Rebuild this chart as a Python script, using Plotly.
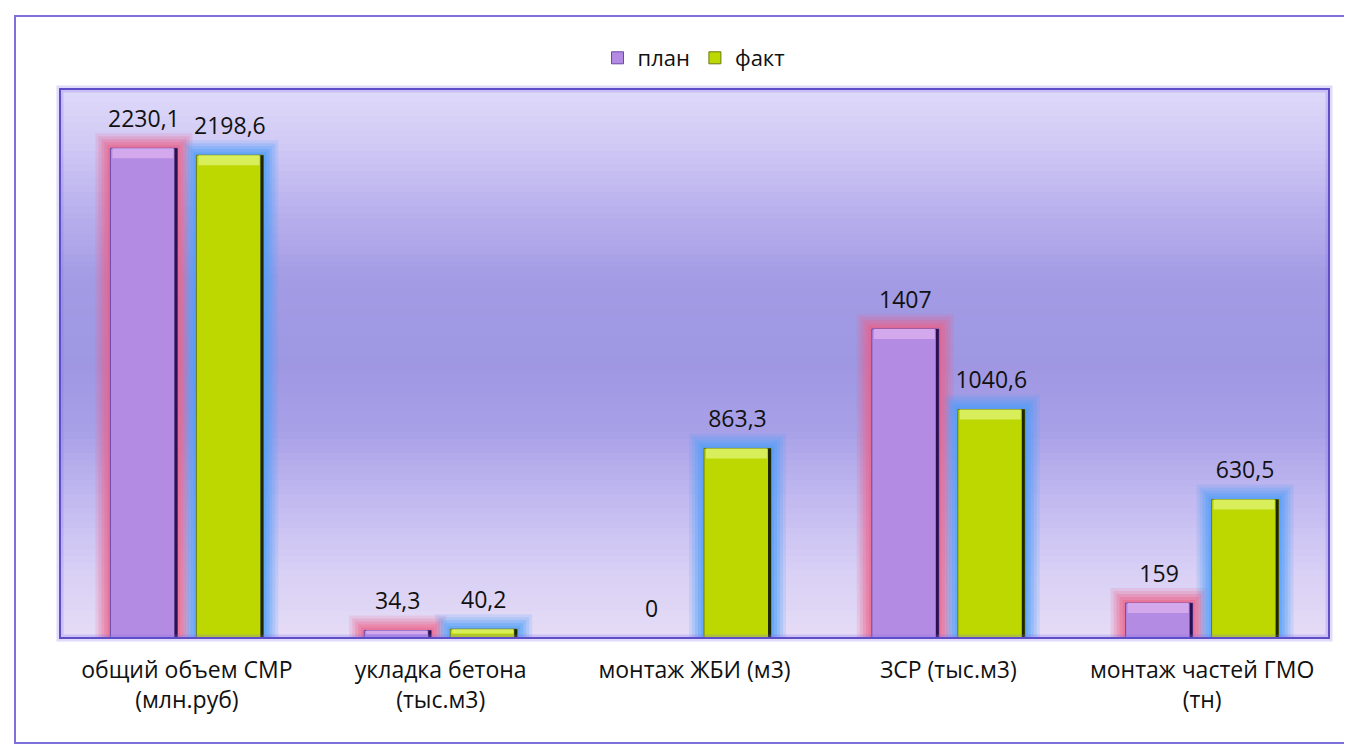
import plotly.graph_objects as go

# ---- data ----
categories = [
    "общий объем СМР<br>(млн.руб)",
    "укладка бетона<br>(тыс.м3)",
    "монтаж ЖБИ (м3)",
    "ЗСР (тыс.м3)",
    "монтаж частей ГМО<br>(тн)",
]
plan = [2230.1, 34.3, 0, 1407, 159]
fact = [2198.6, 40.2, 863.3, 1040.6, 630.5]
series_names = ["план", "факт"]

# ---- layout constants (page pixels; the page body has an 8px margin) ----
OFF = 8
W, H = 1352 - OFF, 747 - OFF
PX_L, PX_R, PX_T, PX_B = 60 - OFF, 1329 - OFF, 89 - OFF, 638 - OFF
Y_MAX = 2500
cat_px = (PX_R - PX_L) / len(categories)
unit_px = (PX_B - PX_T) / Y_MAX

bar_w = 67 / cat_px
plan_off = -76.5 / cat_px
fact_off = 9.5 / cat_px
lab_pad = 27 / unit_px

FONT = "Open Sans, Noto Sans, DejaVu Sans, sans-serif"
PLAN_C = "#B48BE2"
FACT_C = "#BCD800"
PLAN_LINE = "#6A48A8"
FACT_LINE = "#6A7A10"
PLAN_TOP = "#D4A8EC"
FACT_TOP = "#D8EE5A"
PLAN_EDGE = "#2A1050"
FACT_EDGE = "#1E2600"
PLAN_GLOW = "236,96,136"
FACT_GLOW = "76,158,250"

xs = list(range(len(categories)))
fig = go.Figure()

# background gradient of the plot area (purely decorative)
N = 80
grad_y = [Y_MAX * k / N for k in range(N + 1)]
grad_z = [[(k + 0.5) / N] for k in range(N)]
fig.add_trace(go.Heatmap(
    x=[-0.5, len(categories) - 0.5], y=grad_y, z=grad_z,
    colorscale=[
        [0.0, "#E6DCF6"], [0.12, "#D8D0F5"], [0.25, "#C2BAF0"],
        [0.38, "#A8A0E7"], [0.5, "#9E97E2"], [0.65, "#A39BE4"],
        [0.78, "#B9B1ED"], [0.9, "#D1CAF5"], [1.0, "#DEDAF9"],
    ],
    zmin=0, zmax=1, showscale=False, hoverinfo="skip",
))

def glow(vals, off, rgb, pad_px, alpha):
    px = pad_px / cat_px
    py = pad_px / unit_px
    return go.Bar(
        x=xs, y=[v + py if v > 0 else 0 for v in vals],
        offset=off - px, width=bar_w + 2 * px,
        marker=dict(color=f"rgba({rgb},{alpha})", line=dict(width=0)),
        showlegend=False, hoverinfo="skip",
    )

for pad, a in [(15, 0.16), (12, 0.2), (9, 0.27), (6, 0.33), (3, 0.4)]:
    fig.add_trace(glow(plan, plan_off, PLAN_GLOW, pad, a))
    fig.add_trace(glow(fact, fact_off, FACT_GLOW, pad, a))

fig.add_trace(go.Bar(
    x=xs, y=plan, name=series_names[0], offset=plan_off, width=bar_w,
    marker=dict(color=PLAN_C, line=dict(color=PLAN_LINE, width=1)),
))
fig.add_trace(go.Bar(
    x=xs, y=fact, name=series_names[1], offset=fact_off, width=bar_w,
    marker=dict(color=FACT_C, line=dict(color=FACT_LINE, width=1)),
))

# bevel: light top band and dark right edge of each bar
bevel_u = 10 / unit_px
edge_w = 3 / cat_px
for vals, off, top_c, edge_c in [(plan, plan_off, PLAN_TOP, PLAN_EDGE),
                                  (fact, fact_off, FACT_TOP, FACT_EDGE)]:
    bev = [min(bevel_u, v / 2) for v in vals]
    fig.add_trace(go.Bar(
        x=xs, y=bev, base=[v - b for v, b in zip(vals, bev)],
        offset=off + 2 / cat_px, width=bar_w - 6 / cat_px,
        marker=dict(color=top_c, line=dict(width=0)),
        showlegend=False, hoverinfo="skip",
    ))
    fig.add_trace(go.Bar(
        x=xs, y=vals, offset=off + bar_w - edge_w, width=edge_w,
        marker=dict(color=edge_c, line=dict(width=0)),
        showlegend=False, hoverinfo="skip",
    ))

def fmt(v):
    return f"{v:g}".replace(".", ",")

for vals, off in [(plan, plan_off), (fact, fact_off)]:
    fig.add_trace(go.Scatter(
        x=[i + off + bar_w / 2 for i in xs],
        y=[v + lab_pad for v in vals],
        mode="text", text=[fmt(v) for v in vals],
        textposition="middle center",
        textfont=dict(family=FONT, size=23, color="#111111"),
        showlegend=False, hoverinfo="skip", cliponaxis=False,
    ))

fig.update_layout(
    width=W, height=H,
    margin=dict(l=0, r=0, t=0, b=0),
    paper_bgcolor="white", plot_bgcolor="white",
    barmode="overlay", hovermode=False,
    font=dict(family=FONT, color="#111111"),
    legend=dict(
        orientation="h", x=(694 - OFF) / W, xanchor="center",
        y=1 - (58 - OFF) / H, yanchor="middle",
        font=dict(family=FONT, size=22, color="#111111"),
        bgcolor="rgba(0,0,0,0)", itemclick=False,
    ),
    xaxis=dict(
        domain=[PX_L / W, PX_R / W], range=[-0.5, len(categories) - 0.5],
        tickvals=xs, ticktext=categories, ticks="",
        tickfont=dict(family=FONT, size=23, color="#111111"),
        ticklabelstandoff=16,
        showgrid=False, zeroline=False, showline=False,
    ),
    yaxis=dict(
        domain=[1 - PX_B / H, 1 - PX_T / H], range=[0, Y_MAX],
        showticklabels=False, showgrid=False, zeroline=False,
        showline=False, ticks="",
    ),
    shapes=[
        dict(type="rect", xref="x domain", yref="y domain",
             x0=0, x1=1, y0=0, y1=1,
             line=dict(color="rgba(130,110,235,0.25)", width=7)),
        dict(type="rect", xref="x domain", yref="y domain",
             x0=0, x1=1, y0=0, y1=1,
             line=dict(color="#5E4EC8", width=2)),
        dict(type="rect", xref="paper", yref="paper",
             x0=(15 - OFF) / W, x1=1.1,
             y0=1 - (743 - OFF) / H, y1=1 - (16 - OFF) / H,
             line=dict(color="#7E70DA", width=2)),
    ],
)

fig.write_html("out.html")
